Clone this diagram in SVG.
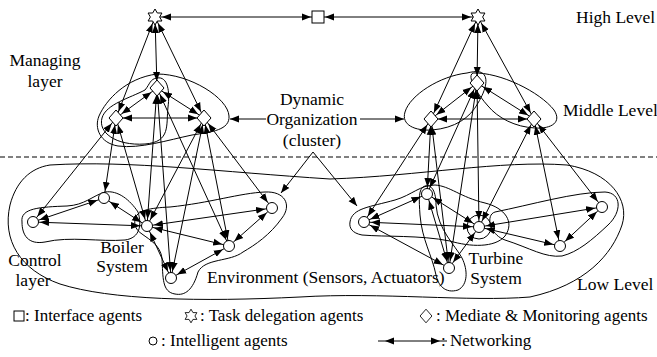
<svg xmlns="http://www.w3.org/2000/svg" xmlns:xlink="http://www.w3.org/1999/xlink" width="657" height="357" viewBox="0 0 657 357">
  <style>
    text { font-family: "Liberation Serif", "Times New Roman", serif; font-size: 17.5px; fill: #000; }
    #legend text { font-size: 17px; }
    .ln { stroke: #000; stroke-width: 1; fill: none; marker-start: url(#ah); marker-end: url(#ah); }
    .one { stroke: #000; stroke-width: 1; fill: none; marker-end: url(#tip); }
    .cl { fill: none; stroke: #000; stroke-width: 1; }
    .node { fill: #fff; stroke: #000; stroke-width: 1; }
    .grid { stroke: #000; stroke-width: 1; stroke-dasharray: 5 3; fill: none; }
  </style>
  <defs>
    <!-- double-headed link arrow, tip held 7px short of the line end -->
    <marker id="ah" viewBox="0 0 16 8" refX="16" refY="4" markerWidth="16" markerHeight="8" markerUnits="userSpaceOnUse" orient="auto-start-reverse">
      <path d="M0,0.5 L9,4 L0,7.5 z" fill="#000"/>
    </marker>
    <!-- single pointer arrow, tip at the line end -->
    <marker id="tip" viewBox="0 0 9 8" refX="9" refY="4" markerWidth="9" markerHeight="8" markerUnits="userSpaceOnUse" orient="auto">
      <path d="M0,0.5 L9,4 L0,7.5 z" fill="#000"/>
    </marker>
    <polygon id="star" points="0,-8 2.31,-4 6.93,-4 4.62,0 6.93,4 2.31,4 0,8 -2.31,4 -6.93,4 -4.62,0 -6.93,-4 -2.31,-4"/>
    <polygon id="diamond" points="0,-8 7,0 0,8 -7,0"/>
    <rect id="square" x="-6" y="-6" width="12" height="12"/>
    <circle id="agent" r="5.5"/>
  </defs>

  <!-- level separator -->
  <line class="grid" x1="0" y1="157" x2="657" y2="157"/>

  <!-- cluster outlines -->
  <g id="clusters">
    <path class="cl" d="M157,74 C190,74 228,98 229,116 C230,130 212,132 192,135 C168,140 140,149 118,146 C100,143 94,128 99,116 C106,100 126,78 157,74 Z"/>
    <path class="cl" d="M157,78 C168,76 170,92 168,107 C166,125 171,142 145,144 C115,146 98,132 102,118 C106,104 130,98 145,90 C150,84 150,79 157,78 Z"/>
    <path class="cl" d="M467,73 C440,76 410,95 405,112 C401,125 415,131 432,130 C455,128 470,118 478,103 C486,90 490,75 480,72 C476,71 471,72 467,73 Z"/>
    <path class="cl" d="M473,73 C500,72 540,92 554,110 C562,122 552,129 535,128 C515,127 498,118 488,106 C478,95 466,76 473,73 Z"/>
    <path class="cl" d="M50,165 C130,160 220,172 330,179 C420,176 500,160 567,165 C610,172 630,200 622,225 C612,255 585,285 530,297 C470,302 380,292 300,297 C200,302 110,300 60,284 C20,270 2,240 10,205 C16,182 30,168 50,165 Z"/>
    <path class="cl" d="M22,222 C20,208 40,207 67,206 C85,205 92,196 105,192 C118,190 130,200 138,212 C142,225 140,238 125,240 C100,242 70,236 45,242 C28,245 22,235 22,222 Z"/>
    <path class="cl" d="M135,220 C136,210 150,208 170,207 C210,203 240,193 265,192 C285,191 292,205 282,218 C270,235 255,245 243,252 C230,262 205,258 198,272 C193,290 185,296 175,294 C162,292 163,278 162,258 C160,245 150,240 142,234 C136,230 134,225 135,220 Z"/>
    <path class="cl" d="M350,222 C352,208 370,207 395,200 C412,195 420,185 435,185 C450,186 460,197 485,203 C505,208 515,222 505,236 C495,248 470,247 450,241 C420,235 385,237 362,235 C352,233 349,228 350,222 Z"/>
    <path class="cl" d="M425,186 C432,184 436,192 436,205 C438,230 455,245 462,258 C468,270 468,285 458,290 C445,294 438,285 436,275 C432,255 422,240 420,215 C419,200 418,188 425,186 Z"/>
    <path class="cl" d="M495,212 C530,205 575,192 605,192 C622,193 622,212 608,225 C592,240 578,252 562,256 C545,258 530,248 505,240 C490,235 485,215 495,212 Z"/>
    <circle class="cl" cx="479" cy="227" r="12"/>
  </g>

  <!-- links between agents -->
  <g id="connectors">
    <line class="ln" x1="155" y1="17" x2="318" y2="17"/>
    <line class="ln" x1="318" y1="17" x2="478" y2="17"/>

    <line class="ln" x1="155" y1="17" x2="157" y2="88"/>
    <line class="ln" x1="155" y1="17" x2="116" y2="118"/>
    <line class="ln" x1="155" y1="17" x2="204" y2="118"/>
    <line class="ln" x1="478" y1="17" x2="477" y2="83"/>
    <line class="ln" x1="478" y1="17" x2="431" y2="119"/>
    <line class="ln" x1="478" y1="17" x2="534" y2="119"/>

    <line class="ln" x1="157" y1="88" x2="116" y2="118"/>
    <line class="ln" x1="157" y1="88" x2="204" y2="118"/>
    <line class="ln" x1="116" y1="118" x2="204" y2="118"/>
    <line class="ln" x1="477" y1="83" x2="431" y2="119"/>
    <line class="ln" x1="477" y1="83" x2="534" y2="119"/>
    <line class="ln" x1="431" y1="119" x2="534" y2="119"/>

    <line class="ln" x1="116" y1="118" x2="33" y2="222"/>
    <line class="ln" x1="116" y1="118" x2="104" y2="198"/>
    <line class="ln" x1="116" y1="118" x2="147" y2="226"/>
    <line class="ln" x1="157" y1="88" x2="147" y2="226"/>
    <line class="ln" x1="157" y1="88" x2="171" y2="278"/>
    <line class="ln" x1="157" y1="88" x2="229" y2="246"/>
    <line class="ln" x1="204" y1="118" x2="147" y2="226"/>
    <line class="ln" x1="204" y1="118" x2="171" y2="278"/>
    <line class="ln" x1="204" y1="118" x2="229" y2="246"/>
    <line class="ln" x1="204" y1="118" x2="272" y2="208"/>

    <line class="ln" x1="33" y1="222" x2="104" y2="198"/>
    <line class="ln" x1="33" y1="222" x2="147" y2="226"/>
    <line class="ln" x1="104" y1="198" x2="147" y2="226"/>
    <line class="ln" x1="147" y1="226" x2="171" y2="278"/>
    <line class="ln" x1="147" y1="226" x2="229" y2="246"/>
    <line class="ln" x1="147" y1="226" x2="272" y2="208"/>
    <line class="ln" x1="171" y1="278" x2="229" y2="246"/>
    <line class="ln" x1="229" y1="246" x2="272" y2="208"/>

    <line class="ln" x1="431" y1="119" x2="364" y2="222"/>
    <line class="ln" x1="431" y1="119" x2="427" y2="194"/>
    <line class="ln" x1="431" y1="119" x2="449" y2="268"/>
    <line class="ln" x1="477" y1="83" x2="427" y2="194"/>
    <line class="ln" x1="477" y1="83" x2="479" y2="227"/>
    <line class="ln" x1="477" y1="83" x2="449" y2="268"/>
    <line class="ln" x1="534" y1="119" x2="479" y2="227"/>
    <line class="ln" x1="534" y1="119" x2="560" y2="246"/>
    <line class="ln" x1="534" y1="119" x2="602" y2="207"/>

    <line class="ln" x1="364" y1="222" x2="427" y2="194"/>
    <line class="ln" x1="364" y1="222" x2="479" y2="227"/>
    <line class="ln" x1="364" y1="222" x2="449" y2="268"/>
    <line class="ln" x1="427" y1="194" x2="479" y2="227"/>
    <line class="ln" x1="427" y1="194" x2="449" y2="268"/>
    <line class="ln" x1="449" y1="268" x2="479" y2="227"/>
    <line class="ln" x1="479" y1="227" x2="602" y2="207"/>
    <line class="ln" x1="479" y1="227" x2="560" y2="246"/>
    <line class="ln" x1="560" y1="246" x2="602" y2="207"/>

    <!-- pointers from the cluster label -->
    <line class="one" x1="266" y1="119" x2="230" y2="119"/>
    <line class="one" x1="360" y1="119" x2="404" y2="119"/>
    <polyline class="one" points="313,152 281,193"/>
    <polyline class="one" points="313,152 357,206"/>
  </g>

  <!-- high level -->
  <g id="star-left"><use href="#star" class="node" x="155" y="17"/></g>
  <g id="interface"><use href="#square" class="node" x="318" y="17"/></g>
  <g id="star-right"><use href="#star" class="node" x="478" y="17"/></g>

  <!-- middle level -->
  <g id="mm-left-top"><use href="#diamond" class="node" x="157" y="88"/></g>
  <g id="mm-left-left"><use href="#diamond" class="node" x="116" y="118"/></g>
  <g id="mm-left-right"><use href="#diamond" class="node" x="204" y="118"/></g>
  <g id="mm-right-top"><use href="#diamond" class="node" x="477" y="83"/></g>
  <g id="mm-right-left"><use href="#diamond" class="node" x="431" y="119"/></g>
  <g id="mm-right-right"><use href="#diamond" class="node" x="534" y="119"/></g>

  <!-- low level: boiler side -->
  <g id="b1"><use href="#agent" class="node" x="33" y="222"/></g>
  <g id="b2"><use href="#agent" class="node" x="104" y="198"/></g>
  <g id="b3"><use href="#agent" class="node" x="147" y="226"/></g>
  <g id="b4"><use href="#agent" class="node" x="171" y="278"/></g>
  <g id="b5"><use href="#agent" class="node" x="229" y="246"/></g>
  <g id="b6"><use href="#agent" class="node" x="272" y="208"/></g>

  <!-- low level: turbine side -->
  <g id="t1"><use href="#agent" class="node" x="364" y="222"/></g>
  <g id="t2"><use href="#agent" class="node" x="427" y="194"/></g>
  <g id="t3"><use href="#agent" class="node" x="479" y="227"/></g>
  <g id="t4"><use href="#agent" class="node" x="449" y="268"/></g>
  <g id="t5"><use href="#agent" class="node" x="602" y="207"/></g>
  <g id="t6"><use href="#agent" class="node" x="560" y="246"/></g>

  <!-- labels -->
  <g id="labels">
    <text x="576" y="23">High Level</text>
    <text x="45" y="66" text-anchor="middle">Managing</text>
    <text x="45" y="87" text-anchor="middle">layer</text>
    <text x="563" y="116">Middle Level</text>
    <text x="312" y="105" text-anchor="middle">Dynamic</text>
    <text x="312" y="125" text-anchor="middle">Organization</text>
    <text x="312" y="146" text-anchor="middle">(cluster)</text>
    <text x="122" y="253" text-anchor="middle">Boiler</text>
    <text x="122" y="272" text-anchor="middle">System</text>
    <text x="35" y="266" text-anchor="middle">Control</text>
    <text x="33" y="286" text-anchor="middle">layer</text>
    <text x="207" y="283">Environment (Sensors, Actuators)</text>
    <text x="496" y="264" text-anchor="middle">Turbine</text>
    <text x="496" y="284" text-anchor="middle">System</text>
    <text x="577" y="290">Low Level</text>
  </g>

  <!-- key -->
  <g id="legend">
    <rect class="node" x="14" y="311" width="10" height="10"/>
    <text x="25" y="321">: Interface agents</text>
    <use href="#star" class="node" transform="translate(191,316) scale(0.85)"/>
    <text x="200" y="321">:  Task delegation agents</text>
    <use href="#diamond" class="node" transform="translate(426,316) scale(0.85)"/>
    <text x="436" y="321"> : Mediate &amp; Monitoring agents</text>
    <circle class="node" cx="153" cy="341" r="4"/>
    <text x="161" y="346"> : Intelligent agents</text>
    <line class="ln" x1="378" y1="341" x2="447" y2="341"/>
    <text x="441" y="346">: Networking</text>
  </g>
</svg>
